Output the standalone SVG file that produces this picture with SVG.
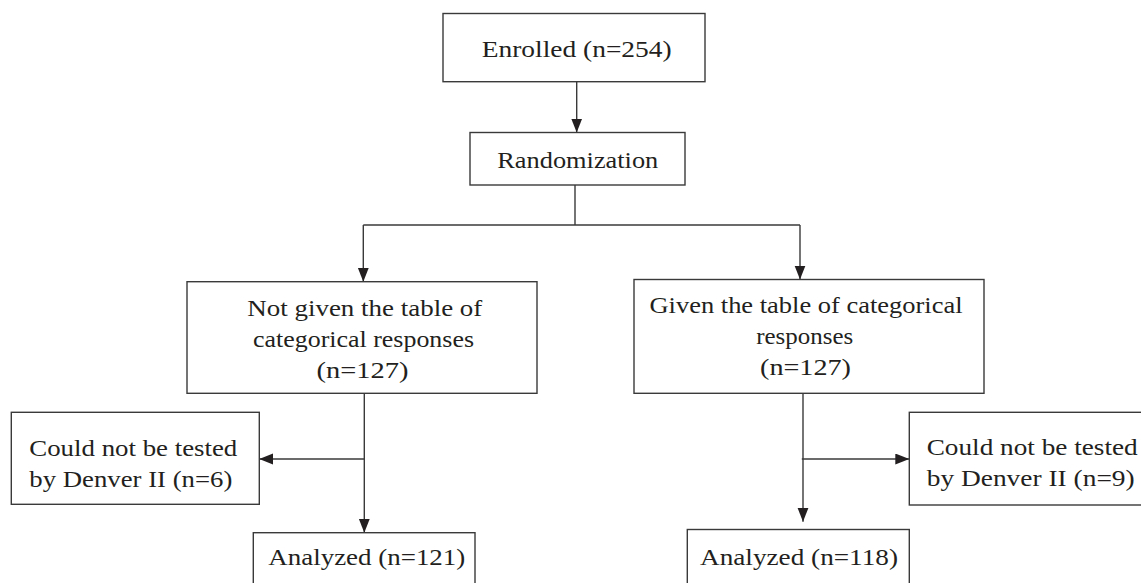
<svg xmlns="http://www.w3.org/2000/svg" width="1141" height="583" viewBox="0 0 1141 583">
<style>
.box{fill:#fff;stroke:#3a3a3a;stroke-width:1.4}
.t{font-family:"Liberation Serif","Times New Roman",serif;font-size:23px;fill:#231f20}
.c{text-anchor:middle}
.ln{fill:none;stroke:#3a3a3a;stroke-width:1.4}
</style>
<defs>
<marker id="ah" markerUnits="userSpaceOnUse" markerWidth="16" markerHeight="12" refX="14" refY="5.5" orient="auto">
<path d="M0,0 L14,5.5 L0,11 Z" fill="#231f20"/>
</marker>
</defs>
<rect width="1141" height="583" fill="#fff"/>
<g id="connectors">
<line class="ln" x1="576.7" y1="81.7" x2="576.7" y2="132.5" marker-end="url(#ah)"/>
<polyline class="ln" points="575,185 575,225"/>
<polyline class="ln" points="363.3,225 800,225"/>
<line class="ln" x1="363.3" y1="225" x2="363.3" y2="281.7" marker-end="url(#ah)"/>
<line class="ln" x1="800" y1="225" x2="800" y2="279.5" marker-end="url(#ah)"/>
<line class="ln" x1="364.3" y1="393.3" x2="364.3" y2="532.7" marker-end="url(#ah)"/>
<line class="ln" x1="364.3" y1="459" x2="259.3" y2="459" marker-end="url(#ah)"/>
<line class="ln" x1="803" y1="393.3" x2="803" y2="521.7" marker-end="url(#ah)"/>
<line class="ln" x1="801.8" y1="459" x2="909.3" y2="459" marker-end="url(#ah)"/>
</g>
<g id="enrolled">
<rect class="box" x="443" y="13.5" width="262" height="68.2"/>
<text class="t c" x="576.7" y="56.5" textLength="190" lengthAdjust="spacingAndGlyphs">Enrolled (n=254)</text>
</g>
<g id="randomization">
<rect class="box" x="470" y="132.5" width="215" height="52.5"/>
<text class="t c" x="577.8" y="168" textLength="161" lengthAdjust="spacingAndGlyphs">Randomization</text>
</g>
<g id="not-given">
<rect class="box" x="187" y="281.7" width="350" height="111.6"/>
<text class="t c" x="364.8" y="316" textLength="235" lengthAdjust="spacingAndGlyphs">Not given the table of</text>
<text class="t c" x="363.5" y="347" textLength="221" lengthAdjust="spacingAndGlyphs">categorical responses</text>
<text class="t c" x="362.5" y="378" textLength="92" lengthAdjust="spacingAndGlyphs">(n=127)</text>
</g>
<g id="given">
<rect class="box" x="634" y="279.5" width="350" height="113.8"/>
<text class="t c" x="806" y="313.3" textLength="313" lengthAdjust="spacingAndGlyphs">Given the table of categorical</text>
<text class="t c" x="804.7" y="343.5" textLength="97" lengthAdjust="spacingAndGlyphs">responses</text>
<text class="t c" x="805.5" y="374.5" textLength="91" lengthAdjust="spacingAndGlyphs">(n=127)</text>
</g>
<g id="excluded-left">
<rect class="box" x="11.3" y="412.3" width="248" height="92"/>
<text class="t" x="29.3" y="455.5" textLength="208" lengthAdjust="spacingAndGlyphs">Could not be tested</text>
<text class="t" x="29.3" y="486.5" textLength="203" lengthAdjust="spacingAndGlyphs">by Denver II (n=6)</text>
</g>
<g id="excluded-right">
<rect class="box" x="909.3" y="412.3" width="260" height="92.7"/>
<text class="t" x="926.7" y="454.5" textLength="211" lengthAdjust="spacingAndGlyphs">Could not be tested</text>
<text class="t" x="926.7" y="485.5" textLength="208" lengthAdjust="spacingAndGlyphs">by Denver II (n=9)</text>
</g>
<g id="analyzed-left">
<rect class="box" x="253.3" y="532.7" width="221.7" height="70"/>
<text class="t" x="268.3" y="565" textLength="197" lengthAdjust="spacingAndGlyphs">Analyzed (n=121)</text>
</g>
<g id="analyzed-right">
<rect class="box" x="687.3" y="529.5" width="222" height="70"/>
<text class="t" x="700" y="565" textLength="198" lengthAdjust="spacingAndGlyphs">Analyzed (n=118)</text>
</g>
</svg>
